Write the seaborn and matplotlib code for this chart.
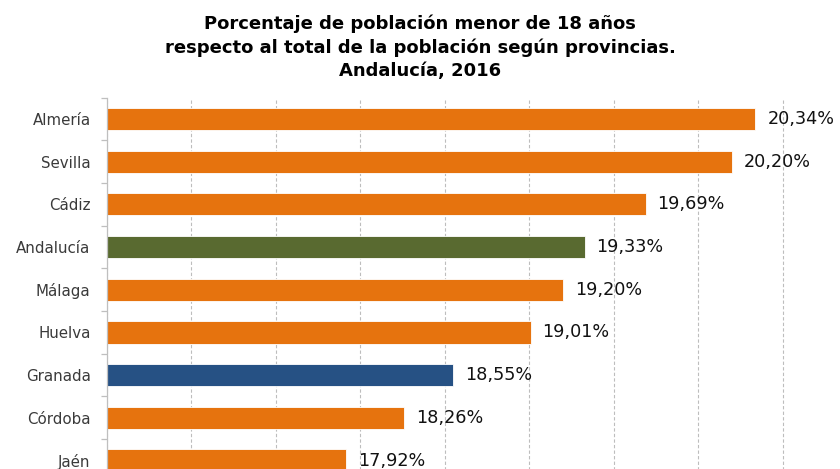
import matplotlib
matplotlib.use("Agg")
import matplotlib.pyplot as plt
import seaborn as sns
import pandas as pd
import numpy as np

categories = ["Almería", "Sevilla", "Cádiz", "Andalucía", "Málaga", "Huelva",
              "Granada", "Córdoba", "Jaén"]
values = [20.34, 20.20, 19.69, 19.33, 19.20, 19.01, 18.55, 18.26, 17.92]
bar_colors = ["#E6730E", "#E6730E", "#E6730E", "#596A30", "#E6730E", "#E6730E",
              "#265184", "#E6730E", "#E6730E"]
title = ("Porcentaje de población menor de 18 años\n"
         "respecto al total de la población según provincias.\n"
         "Andalucía, 2016")

sns.set_style("white")
plt.rcParams['font.family'] = ['DejaVu Sans']

df = pd.DataFrame({"provincia": categories, "valor": values})

fig = plt.figure(figsize=(8.4, 4.69), dpi=100)
ax = fig.add_axes([106.5 / 840, -0.0275, 0.9054, 0.8194])

sns.barplot(data=df, x="valor", y="provincia", hue="provincia",
            palette=dict(zip(categories, bar_colors)), order=categories,
            width=0.52, legend=False, ax=ax, saturation=1,
            edgecolor="white", linewidth=0.6)

ax.set_xlim(16.5, 21.0)
ax.set_xticks(np.arange(16.5, 21.01, 0.5))
ax.set_xticklabels([])
ax.tick_params(axis="x", length=0)
ax.grid(axis="x", color="#BDBDBD", linestyle=(0, (3, 2)), linewidth=0.8)
ax.set_axisbelow(True)
ax.set_xlabel("")
ax.set_ylabel("")

for s in ["top", "right", "bottom"]:
    ax.spines[s].set_visible(False)
ax.spines["left"].set_color("#BFBFBF")
ax.spines["left"].set_linewidth(0.9)

ax.set_yticks(np.arange(-0.5, len(categories), 1.0), minor=True)
ax.tick_params(axis="y", which="minor", length=4.5, width=0.9, color="#BFBFBF",
               direction="out", left=True)
ax.tick_params(axis="y", which="major", length=0, pad=11.5, labelsize=10.8,
               labelcolor="#3A3A3A")
ax.set_ylim(len(categories) - 0.5, -0.5)

for i, v in enumerate(values):
    ax.annotate(f"{v:.2f}".replace(".", ",") + "%", xy=(v, i),
                xytext=(8.5, 0), textcoords="offset points",
                ha="left", va="center", fontsize=12.7, color="#111111",
                annotation_clip=False)

fig.text(0.5, 0.970, title, ha="center", va="top", fontsize=13,
         fontweight="bold", linespacing=1.38, color="#000000")

fig.savefig("out.png", dpi=100)
